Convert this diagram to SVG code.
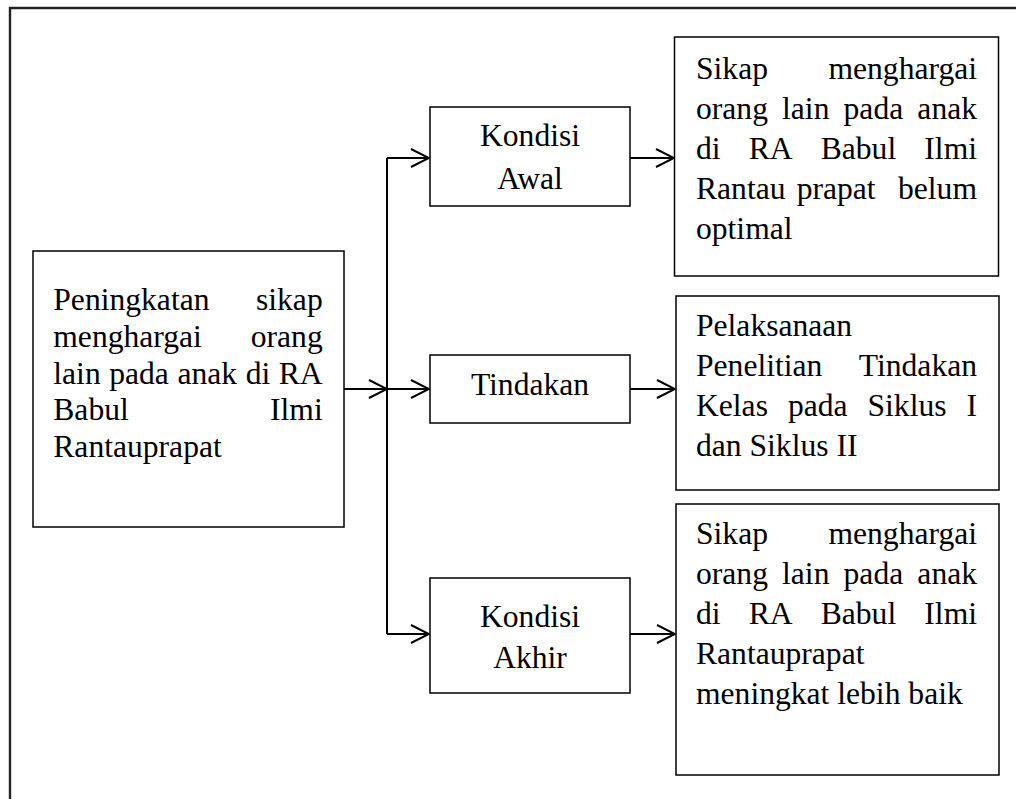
<svg xmlns="http://www.w3.org/2000/svg" width="1016" height="799" viewBox="0 0 1016 799">
<style>
.box{fill:#fff;stroke:#000;stroke-width:1.5}
.t{font-family:"Liberation Serif","Times New Roman",serif;font-size:31.6px;fill:#000}
.c{text-anchor:middle}
.e{text-anchor:end}
.ln{fill:none;stroke:#000;stroke-width:2}
</style>
<defs>
<marker id="arr" viewBox="0 0 20 20" refX="19" refY="10" markerWidth="20" markerHeight="20" markerUnits="userSpaceOnUse" orient="auto">
<path d="M1,1 L19,10 L1,19" fill="none" stroke="#000" stroke-width="2"/>
</marker>
</defs>
<rect width="1016" height="799" fill="#fff"/>
<path d="M10,800 V8 H1017" fill="none" stroke="#222" stroke-width="2.4"/>
<g id="connectors">
<path class="ln" d="M344,389 H387" marker-end="url(#arr)"/>
<path class="ln" d="M387,158 V634"/>
<path class="ln" d="M387,158 H429" marker-end="url(#arr)"/>
<path class="ln" d="M387,389 H429" marker-end="url(#arr)"/>
<path class="ln" d="M387,634 H429" marker-end="url(#arr)"/>
<path class="ln" d="M630,158 H674" marker-end="url(#arr)"/>
<path class="ln" d="M630,389 H675" marker-end="url(#arr)"/>
<path class="ln" d="M630,634 H675" marker-end="url(#arr)"/>
</g>
<g id="node-peningkatan">
<rect class="box" x="33" y="251" width="311" height="276"/>
<text class="t"><tspan x="53.3" y="310">Peningkatan </tspan><tspan class="e" x="322.7" y="310">sikap</tspan></text>
<text class="t"><tspan x="53.3" y="346.75">menghargai </tspan><tspan class="e" x="322.7" y="346.75">orang</tspan></text>
<text class="t"><tspan x="53.3" y="383.5">lain </tspan><tspan x="109.25" y="383.5">pada </tspan><tspan x="177.46" y="383.5">anak </tspan><tspan x="245.67" y="383.5">di </tspan><tspan class="e" x="322.7" y="383.5">RA</tspan></text>
<text class="t"><tspan x="53.3" y="420.25">Babul </tspan><tspan class="e" x="322.7" y="420.25">Ilmi</tspan></text>
<text class="t" x="53.3" y="457">Rantauprapat</text>
</g>
<g id="node-kondisi-awal">
<rect class="box" x="430" y="107" width="200" height="99"/>
<text class="t c" x="530" y="146">Kondisi</text>
<text class="t c" x="530" y="189">Awal</text>
</g>
<g id="node-tindakan">
<rect class="box" x="430" y="355" width="200" height="68"/>
<text class="t c" x="530" y="395">Tindakan</text>
</g>
<g id="node-kondisi-akhir">
<rect class="box" x="430" y="578" width="200" height="115"/>
<text class="t c" x="530" y="627">Kondisi</text>
<text class="t c" x="530" y="668">Akhir</text>
</g>
<g id="node-awal-desc">
<rect class="box" x="674.5" y="37" width="324" height="239"/>
<text class="t"><tspan x="696" y="79">Sikap </tspan><tspan class="e" x="977" y="79">menghargai</tspan></text>
<text class="t"><tspan x="696" y="119">orang </tspan><tspan x="782.06" y="119">lain </tspan><tspan x="843.57" y="119">pada </tspan><tspan class="e" x="977" y="119">anak</tspan></text>
<text class="t"><tspan x="696" y="159">di </tspan><tspan x="748.7" y="159">RA </tspan><tspan x="820.71" y="159">Babul </tspan><tspan class="e" x="977" y="159">Ilmi</tspan></text>
<text class="t"><tspan x="696" y="199">Rantau </tspan><tspan x="796.69" y="199">prapat </tspan><tspan class="e" x="977" y="199">belum</tspan></text>
<text class="t" x="696" y="239">optimal</text>
</g>
<g id="node-tindakan-desc">
<rect class="box" x="676" y="296" width="323" height="194"/>
<text class="t" x="696" y="336">Pelaksanaan</text>
<text class="t"><tspan x="696" y="376">Penelitian </tspan><tspan class="e" x="977" y="376">Tindakan</tspan></text>
<text class="t"><tspan x="696" y="416">Kelas </tspan><tspan x="787.9" y="416">pada </tspan><tspan x="867.51" y="416">Siklus </tspan><tspan class="e" x="977" y="416">I</tspan></text>
<text class="t" x="696" y="456">dan Siklus II</text>
</g>
<g id="node-akhir-desc">
<rect class="box" x="676" y="504" width="323" height="271"/>
<text class="t"><tspan x="696" y="544">Sikap </tspan><tspan class="e" x="977" y="544">menghargai</tspan></text>
<text class="t"><tspan x="696" y="584">orang </tspan><tspan x="782.06" y="584">lain </tspan><tspan x="843.57" y="584">pada </tspan><tspan class="e" x="977" y="584">anak</tspan></text>
<text class="t"><tspan x="696" y="624">di </tspan><tspan x="748.7" y="624">RA </tspan><tspan x="820.71" y="624">Babul </tspan><tspan class="e" x="977" y="624">Ilmi</tspan></text>
<text class="t" x="696" y="664">Rantauprapat</text>
<text class="t" x="696" y="704">meningkat lebih baik</text>
</g>
</svg>
